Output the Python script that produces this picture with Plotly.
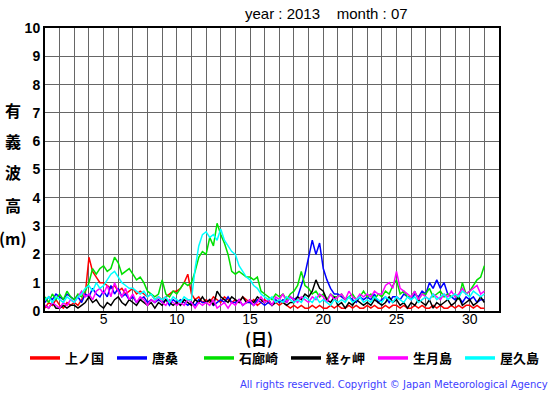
import plotly.graph_objects as go

# ---- data (6-hourly readings, day 1.00 .. 32.00) ----
names = ["上ノ国", "唐桑", "石廊崎", "経ヶ岬", "生月島", "屋久島"]
colors = ["#ff0000", "#0000ff", "#00e000", "#000000", "#ff00ff", "#00ffff"]

kaminokuni = [
    0.1, 0.3, 0.2, 0.4,  0.2, 0.1, 0.3, 0.2,  0.3, 0.2, 0.4, 0.6,  1.9, 1.4, 1.2, 1.0,
    1.0, 0.9, 0.8, 0.9,  0.7, 0.8, 0.6, 0.7,  0.8, 0.6, 0.7, 0.6,  0.5, 0.6, 0.4, 0.5,
    0.4, 0.5, 0.6, 0.7,  0.7, 0.8, 1.0, 1.3,  0.6, 0.4, 0.5, 0.3,  0.4, 0.3, 0.5, 0.4,
    0.3, 0.5, 0.4, 0.3,  0.4, 0.3, 0.5, 0.4,  0.3, 0.4, 0.2, 0.3,  0.4, 0.3, 0.2, 0.3,
    0.2, 0.3, 0.2, 0.1,  0.2, 0.1, 0.2, 0.1,  0.1, 0.2, 0.1, 0.2,  0.1, 0.1, 0.2, 0.1,
    0.2, 0.1, 0.1, 0.2,  0.1, 0.2, 0.1, 0.1,  0.2, 0.1, 0.2, 0.1,  0.1, 0.2, 0.1, 0.2,
    0.2, 0.1, 0.2, 0.1,  0.1, 0.2, 0.1, 0.2,  0.1, 0.1, 0.2, 0.1,  0.2, 0.1, 0.1, 0.2,
    0.1, 0.2, 0.1, 0.2,  0.2, 0.1, 0.2, 0.1,  0.1,
]
karakuwa = [
    0.3, 0.5, 0.4, 0.6,  0.5, 0.4, 0.6, 0.5,  0.4, 0.5, 0.3, 0.6,  0.5, 0.8, 0.6, 0.5,
    0.7, 0.5, 0.9, 0.6,  0.8, 0.5, 0.6, 0.4,  0.5, 0.3, 0.4, 0.5,  0.3, 0.4, 0.3, 0.4,
    0.3, 0.4, 0.2, 0.4,  0.3, 0.4, 0.3, 0.2,  0.3, 0.2, 0.4, 0.3,  0.3, 0.4, 0.2, 0.3,
    0.4, 0.3, 0.5, 0.3,  0.3, 0.4, 0.2, 0.3,  0.3, 0.2, 0.4, 0.3,  0.2, 0.3, 0.2, 0.4,
    0.3, 0.4, 0.3, 0.5,  0.4, 0.5, 0.9, 1.3,  1.9, 2.5, 2.0, 2.4,  1.5, 1.1, 0.8, 0.6,
    0.6, 0.5, 0.4, 0.5,  0.4, 0.3, 0.5, 0.4,  0.5, 0.4, 0.6, 0.3,  0.4, 0.5, 0.3, 0.5,
    0.5, 0.4, 0.6, 0.5,  0.4, 0.6, 0.5, 0.7,  0.6, 1.0, 0.8, 1.1,  0.8, 1.0, 0.6, 0.5,
    0.4, 0.5, 0.3, 0.5,  0.4, 0.5, 0.3, 0.4,  0.4, 0.5, 0.6, 0.8,  0.9,
]
irozaki = [
    0.5, 0.3, 0.6, 0.4,  0.6, 0.4, 0.7, 0.5,  0.4, 0.6, 0.5, 0.7,  1.0, 1.5, 1.3, 1.5,
    1.6, 1.4, 1.5, 1.9,  1.7, 1.3, 1.4, 1.5,  1.3, 1.1, 1.2, 1.0,  0.7, 0.6, 0.5, 0.6,
    1.1, 0.6, 0.5, 0.7,  0.6, 0.8, 1.0, 0.9,  1.0, 1.4, 1.9, 2.1,  2.0, 2.6, 2.3, 3.1,
    2.7, 2.4, 2.0, 1.4,  1.3, 1.4, 1.3, 1.2,  1.2, 1.1, 1.2, 0.7,  0.6, 0.5, 0.4, 0.6,
    0.5, 0.6, 0.4, 0.6,  0.7, 0.9, 1.4, 0.9,  0.8, 0.6, 0.7, 0.5,  0.6, 0.4, 0.6, 0.5,
    0.5, 0.6, 0.4, 0.5,  0.6, 0.4, 0.5, 0.7,  0.5, 0.6, 0.4, 0.6,  0.5, 0.7, 0.6, 0.9,
    1.1, 0.6, 0.7, 0.5,  0.5, 0.7, 0.4, 0.6,  0.6, 0.8, 0.5, 0.6,  0.7, 0.5, 0.6, 0.5,
    0.6, 0.4, 1.0, 0.6,  0.7, 0.9, 1.1, 1.2,  1.6, 1.2, 1.0, 0.8,  0.9,
]
kyogamisaki = [
    0.2, 0.1, 0.3, 0.1,  0.1, 0.2, 0.1, 0.2,  0.2, 0.1, 0.2, 0.3,  0.5, 0.3, 0.4, 0.2,
    0.1, 0.3, 0.2, 0.4,  0.5, 0.3, 0.2, 0.4,  0.3, 0.2, 0.4, 0.3,  0.2, 0.3, 0.1, 0.3,
    0.2, 0.4, 0.3, 0.2,  0.3, 0.2, 0.4, 0.3,  0.2, 0.4, 0.3, 0.5,  0.3, 0.4, 0.2, 0.7,
    0.5, 0.4, 0.3, 0.5,  0.4, 0.3, 0.5, 0.3,  0.4, 0.3, 0.5, 0.4,  0.3, 0.4, 0.2, 0.3,
    0.4, 0.3, 0.2, 0.3,  0.3, 0.5, 0.4, 0.6,  0.5, 0.7, 1.1, 0.8,  0.7, 0.4, 0.3, 0.5,
    0.2, 0.3, 0.1, 0.3,  0.2, 0.4, 0.3, 0.2,  0.3, 0.2, 0.4, 0.3,  0.2, 0.3, 0.5, 0.3,
    0.4, 0.2, 0.3, 0.1,  0.3, 0.2, 0.4, 0.3,  0.2, 0.4, 0.1, 0.3,  0.2, 0.3, 0.4, 0.2,
    0.3, 0.5, 0.2, 0.3,  0.4, 0.2, 0.3, 0.5,  0.3, 0.2, 0.4, 0.3,  0.4,
]
ikitsukishima = [
    0.2, 0.1, 0.3, 0.2,  0.1, 0.3, 0.2, 0.4,  0.3, 0.5, 0.7, 0.5,  0.6, 0.4, 0.7, 0.8,
    0.6, 0.9, 0.5, 1.0,  0.7, 0.5, 0.8, 0.4,  0.6, 0.3, 0.5, 0.4,  0.2, 0.4, 0.3, 0.5,
    0.3, 0.2, 0.4, 0.3,  0.2, 0.3, 0.2, 0.4,  0.3, 0.1, 0.3, 0.2,  0.3, 0.2, 0.4, 0.1,
    0.2, 0.3, 0.1, 0.3,  0.2, 0.4, 0.2, 0.3,  0.4, 0.2, 0.3, 0.5,  0.3, 0.4, 0.2, 0.5,
    0.4, 0.6, 0.3, 0.5,  0.4, 0.3, 0.5, 0.4,  0.3, 0.5, 0.4, 0.6,  0.5, 0.3, 0.6, 0.4,
    0.5, 0.6, 0.4, 0.7,  0.5, 0.4, 0.6, 0.5,  0.6, 0.5, 0.7, 0.6,  0.6, 0.9, 1.0, 0.8,
    1.4, 0.8, 0.7, 0.6,  0.5, 0.7, 0.4, 0.6,  0.5, 0.4, 0.6, 0.5,  0.4, 0.6, 0.5, 0.7,
    0.5, 0.6, 0.8, 0.6,  0.7, 0.8, 0.9, 0.6,  0.7, 0.9, 0.6, 0.8,  0.7,
]
yakushima = [
    0.4, 0.5, 0.3, 0.5,  0.4, 0.3, 0.5, 0.4,  0.3, 0.5, 0.6, 0.8,  0.9, 0.7, 1.0, 0.8,
    0.9, 1.1, 1.3, 1.4,  1.2, 1.0, 0.9, 0.8,  0.8, 0.7, 0.6, 0.7,  0.5, 0.6, 0.4, 0.5,
    0.4, 0.5, 0.3, 0.5,  0.4, 0.3, 0.5, 0.4,  0.4, 1.5, 2.3, 2.7,  2.8, 2.6, 2.7, 2.5,
    2.9, 2.5, 2.3, 2.1,  2.0, 1.6, 1.4, 1.2,  1.1, 0.9, 0.8, 0.6,  0.5, 0.4, 0.5, 0.3,
    0.4, 0.3, 0.5, 0.4,  0.3, 0.4, 0.3, 0.5,  0.4, 0.3, 0.5, 0.3,  0.4, 0.3, 0.2, 0.4,
    0.3, 0.4, 0.3, 0.5,  0.3, 0.4, 0.5, 0.3,  0.4, 0.3, 0.5, 0.4,  0.3, 0.5, 0.4, 0.3,
    0.5, 0.4, 0.3, 0.5,  0.4, 0.5, 0.3, 0.4,  0.5, 0.4, 0.6, 0.4,  0.5, 0.6, 0.4, 0.5,
    0.6, 0.5, 0.7, 0.6,  0.5, 0.7, 0.6, 0.5,  0.6, 0.4, 0.5, 0.6,  0.5,
]
series = [kaminokuni, karakuwa, irozaki, kyogamisaki, ikitsukishima, yakushima]

x_ticks = [5, 10, 15, 20, 25, 30]
y_ticks = list(range(0, 11))
ytitle_chars = ["有", "義", "波", "高", "(m)"]

days = [1 + i / 4 for i in range(len(kaminokuni))]

fig = go.Figure()
for name, col, vals in zip(names, colors, series):
    fig.add_trace(go.Scatter(x=days, y=vals, mode="lines", name=name,
                             line=dict(color=col, width=1.5), showlegend=False))
for i, (name, col) in enumerate(zip(names, colors)):
    fig.add_trace(go.Scatter(x=[None], y=[None], mode="lines", name=name,
                             line=dict(color=col, width=3.5), showlegend=True,
                             legend="legend" if i < 3 else "legend2"))

W, H = 555, 395
L, R, T, B = 45, 56, 28, 84
pw = W - L - R
ph = H - T - B


def px(xp):
    return (xp - L) / pw


def py(yp):
    return (H - B - yp) / ph


cjk = "Noto Sans CJK JP"

leg_common = dict(orientation="h", xref="paper", yref="paper",
                  xanchor="left", y=py(343), yanchor="top",
                  entrywidth=42, entrywidthmode="pixels",
                  font=dict(family=cjk, size=13, color="black", weight="bold"),
                  itemwidth=30, tracegroupgap=0, bgcolor="rgba(0,0,0,0)")

fig.update_layout(
    width=W, height=H,
    margin=dict(l=L, r=R, t=T, b=B, autoexpand=False),
    paper_bgcolor="white", plot_bgcolor="white",
    showlegend=True,
    legend=dict(x=px(25), **leg_common),
    legend2=dict(x=px(25 + 3 * 87), **leg_common),
    xaxis=dict(range=[1, 32], tickvals=x_ticks, ticktext=[str(v) for v in x_ticks],
               showgrid=True, gridcolor="#666666", gridwidth=1,
               minor=dict(dtick=1, tick0=1, showgrid=True, gridcolor="#666666", gridwidth=1),
               showline=True, linecolor="black", linewidth=2, mirror=True,
               ticks="", zeroline=False, ticklabelstandoff=-6,
               tickfont=dict(family="Liberation Sans", size=14, color="black")),
    yaxis=dict(range=[0, 10], tickvals=y_ticks,
               ticktext=["<b>%d</b>" % v for v in y_ticks],
               showgrid=True, gridcolor="#666666", gridwidth=1,
               showline=True, linecolor="black", linewidth=2, mirror=True,
               ticks="", zeroline=False,
               tickfont=dict(family="Liberation Sans", size=14, color="black")),
)

nb = "\u00a0"
fig.add_annotation(text="year" + nb + ":" + nb + "2013" + nb * 4 + "month" + nb + ":" + nb + "07",
                   xref="paper", yref="paper", x=px(326), y=py(13),
                   xanchor="center", yanchor="middle", showarrow=False,
                   font=dict(family="Liberation Sans", size=15, color="black"))

ypos = [110, 141, 172, 205, 238]
for ch, yp in zip(ytitle_chars, ypos):
    fig.add_annotation(text=ch, xref="paper", yref="paper", x=px(13), y=py(yp),
                       xanchor="center", yanchor="middle", showarrow=False,
                       font=dict(family=cjk, size=16, color="black", weight="bold"))

fig.add_annotation(text="(日)", xref="paper", yref="paper", x=px(259), y=py(338),
                   xanchor="center", yanchor="middle", showarrow=False,
                   font=dict(family=cjk, size=16, color="black", weight="bold"))

fig.add_annotation(text="All rights reserved. Copyright © Japan Meteorological Agency",
                   xref="paper", yref="paper", x=px(550), y=py(384),
                   xanchor="right", yanchor="middle", showarrow=False,
                   font=dict(family="DejaVu Sans", size=10, color="#4040ff"))

fig.write_html("out.html", config={"displayModeBar": False},
               post_script="document.body.style.margin='0';")
